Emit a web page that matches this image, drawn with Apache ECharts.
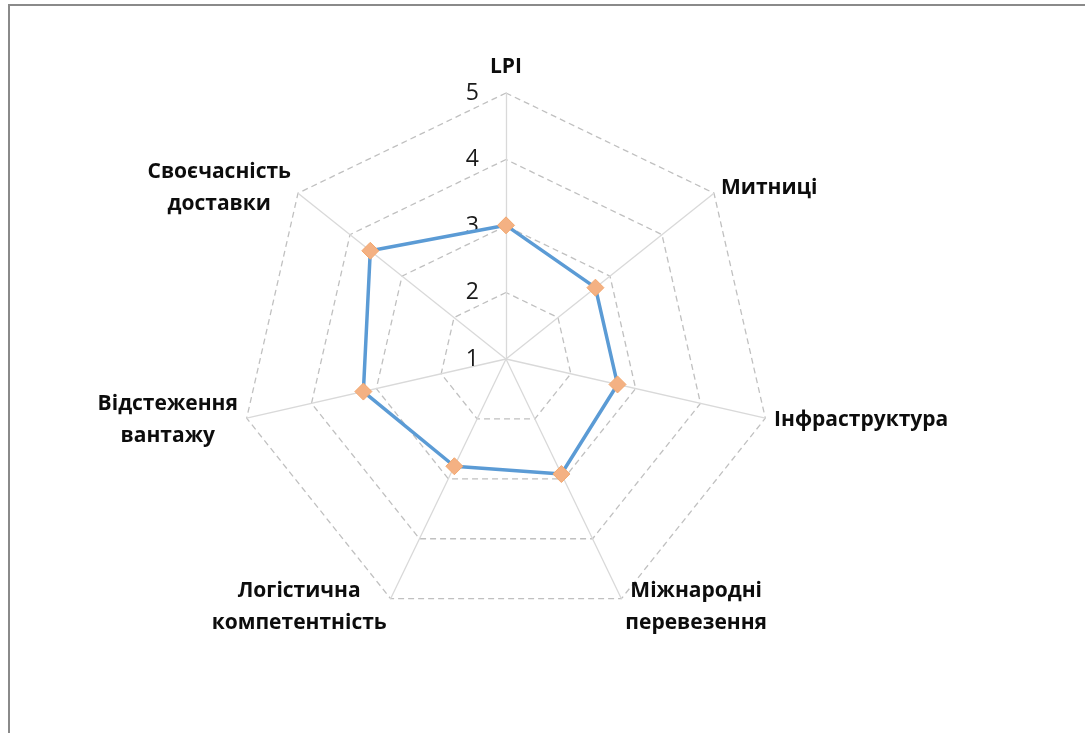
<!DOCTYPE html>
<html>
<head>
<meta charset="utf-8">
<script src="https://cdn.jsdelivr.net/npm/echarts@6/dist/echarts.min.js"></script>
<style>
html,body{margin:0;padding:0;background:#fff;}
#chart{width:1085px;height:733px;}
</style>
</head>
<body>
<div id="chart"></div>
<script>
// Indicators, clockwise from the top (as in the reference)
var categories = ['LPI', 'Митниці', 'Інфраструктура', 'Міжнародні\nперевезення', 'Логістична\nкомпетентність', 'Відстеження\nвантажу', 'Своєчасність\nдоставки'];
var values = [3.01, 2.72, 2.72, 2.92, 2.79, 3.20, 3.61];
var axisMin = 1;
var axisMax = 5;
var tickLabels = ['1', '2', '3', '4', '5'];

// ECharts radar goes counter-clockwise: reorder to keep clockwise placement
var order = [0];
for (var i = categories.length - 1; i >= 1; i--) order.push(i);
var indicators = order.map(function (k) { return { name: categories[k], min: axisMin, max: axisMax }; });
var seriesValues = order.map(function (k) { return values[k]; });

var FONT = '"Open Sans", "Noto Sans", sans-serif';
var chart = echarts.init(document.getElementById('chart'));
chart.setOption({
  backgroundColor: '#ffffff',
  animation: false,
  graphic: [{
    type: 'rect', silent: true,
    shape: { x: 9, y: 5, width: 1200, height: 900 },
    style: { fill: 'none', stroke: '#8a8a8a', lineWidth: 2 }
  }],
  radar: {
    center: [506, 359],
    radius: 266,
    startAngle: 90,
    splitNumber: 4,
    shape: 'polygon',
    nameGap: 9,
    indicator: indicators,
    axisName: {
      color: '#0d0d0d',
      fontFamily: FONT,
      fontWeight: 'bold',
      fontSize: 21,
      formatter: function (name) {
        var st = name === 'LPI' ? 'top' : 'a';
        return name.split('\n').map(function (l) { return '{' + st + '|' + l + '}'; }).join('\n');
      },
      rich: {
        a: { align: 'center', fontFamily: FONT, fontWeight: 'bold', fontSize: 21, lineHeight: 32, color: '#0d0d0d' },
        top: { align: 'center', fontFamily: FONT, fontWeight: 'bold', fontSize: 21, lineHeight: 28, color: '#0d0d0d', padding: [0, 0, 6, 0] }
      }
    },
    axisLine: { lineStyle: { color: '#d9d9d9', width: 1.3 } },
    splitLine: { lineStyle: { color: '#c0c0c0', width: 1.3, type: [6, 4] } },
    splitArea: { show: false },
    axisTick: { show: false },
    axisLabel: { show: false }
  },
  polar: { center: [506, 359], radius: [0, 266] },
  angleAxis: { type: 'value', startAngle: 90, show: false, min: 0, max: 360 },
  radiusAxis: {
    type: 'value', min: axisMin, max: axisMax, interval: 1,
    axisLine: { show: false }, axisTick: { show: false }, splitLine: { show: false },
    axisLabel: {
      show: true, margin: 27, fontFamily: FONT, fontSize: 23, color: '#1a1a1a',
      formatter: function (v) { return tickLabels[Math.round(v) - axisMin]; }
    }
  },
  series: [{
    type: 'radar',
    symbol: 'diamond',
    symbolSize: 17,
    lineStyle: { color: '#5b9bd5', width: 3.5 },
    itemStyle: { color: '#f4b183', borderColor: '#f3a86f', borderWidth: 1 },
    data: [{ value: seriesValues }]
  }]
});
</script>
</body>
</html>
